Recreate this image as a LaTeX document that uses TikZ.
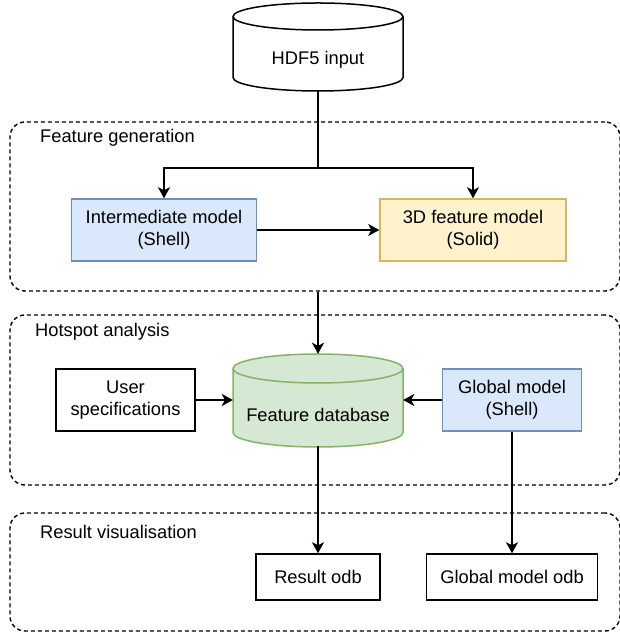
\documentclass[tikz,border=0pt]{standalone}
\usepackage{fontspec}
\setmainfont{Liberation Sans}
\usetikzlibrary{arrows.meta}
\definecolor{bluefill}{HTML}{DAE8FC}
\definecolor{blueline}{HTML}{6C8EBF}
\definecolor{yelfill}{HTML}{FFF2CC}
\definecolor{yelline}{HTML}{D6B656}
\definecolor{grnfill}{HTML}{D5E8D4}
\definecolor{grnline}{HTML}{82B366}
\tikzset{
  every node/.style={font=\fontsize{18.3bp}{21.5bp}\selectfont, align=center, inner sep=0pt},
  container/.style={draw, dashed, dash pattern=on 4bp off 3bp, rounded corners=15bp, line width=1.4bp},
  grouplabel/.style={anchor=west},
  plainbox/.style={draw, line width=1.5bp, fill=white},
  bluebox/.style={draw=blueline, fill=bluefill, line width=1.5bp},
  yelbox/.style={draw=yelline, fill=yelfill, line width=1.5bp},
  conn/.style={line width=1.8bp},
  arr/.style={conn, -{Stealth[length=11bp, width=12bp, inset=3bp]}},
  cylshape/.style={line width=1.5bp}
}
\begin{document}
\begin{tikzpicture}[x=1bp, y=1bp]
\useasboundingbox (0,0) rectangle (620,637);

% containers
\node[container, minimum width=610bp, minimum height=169bp] (fg) at (315,430.5) {};
\node[grouplabel] (fglab) at (40,499) {Feature generation};
\node[container, minimum width=610bp, minimum height=170bp] (ha) at (315,237) {};
\node[grouplabel] (halab) at (35,305) {Hotspot analysis};
\node[container, minimum width=610bp, minimum height=118bp] (rv) at (315,65) {};
\node[grouplabel] (rvlab) at (40,105) {Result visualisation};

% HDF5 cylinder
\draw[cylshape, fill=white] (233,620.5) -- (233,559.5)
  arc[start angle=180, end angle=360, x radius=85, y radius=13.5]
  -- (403,620.5)
  arc[start angle=0, end angle=180, x radius=85, y radius=13.5] -- cycle;
\draw[cylshape] (233,620.5) arc[start angle=180, end angle=360, x radius=85, y radius=13.5];
\node[minimum width=170bp, minimum height=88bp] (hdf) at (318,590) {};
\node (hdftxt) at (318,577) {HDF5 input};

% Feature database cylinder
\draw[cylshape, draw=grnline, fill=grnfill] (233,268.5) -- (233,204.5)
  arc[start angle=180, end angle=360, x radius=85, y radius=14.5]
  -- (403,268.5)
  arc[start angle=0, end angle=180, x radius=85, y radius=14.5] -- cycle;
\draw[cylshape, draw=grnline] (233,268.5) arc[start angle=180, end angle=360, x radius=85, y radius=14.5];
\node[minimum width=170bp, minimum height=92bp] (fdb) at (318,237) {};
\node (fdbtxt) at (318,222) {Feature database};

% boxes
\node[bluebox, minimum width=185bp, minimum height=62bp] (inter) at (164,407) {Intermediate model\\(Shell)};
\node[yelbox, minimum width=186bp, minimum height=62bp] (solid) at (473,407) {3D feature model\\(Solid)};
\node[plainbox, minimum width=139bp, minimum height=62bp] (user) at (125.5,237) {User\\specifications};
\node[bluebox, minimum width=139bp, minimum height=62bp] (glob) at (512,237) {Global model\\(Shell)};
\node[plainbox, minimum width=124bp, minimum height=46bp] (res) at (318,60) {Result odb};
\node[plainbox, minimum width=171bp, minimum height=46bp] (gmo) at (512,60) {Global model odb};

% connectors
\coordinate (j) at (318,469);
\draw[conn] (hdf.south) -- (j);
\draw[arr] (j) -| (inter.north);
\draw[arr] (j) -| (solid.north);
\draw[arr] (inter.east) -- (solid.west);
\draw[arr] (fdb.north |- fg.south) -- (fdb.north);
\draw[arr] (user.east) -- (fdb.west);
\draw[arr] (glob.west) -- (fdb.east);
\draw[arr] (fdb.south) -- (res.north);
\draw[arr] (glob.south) -- (gmo.north);
\end{tikzpicture}
\end{document}
